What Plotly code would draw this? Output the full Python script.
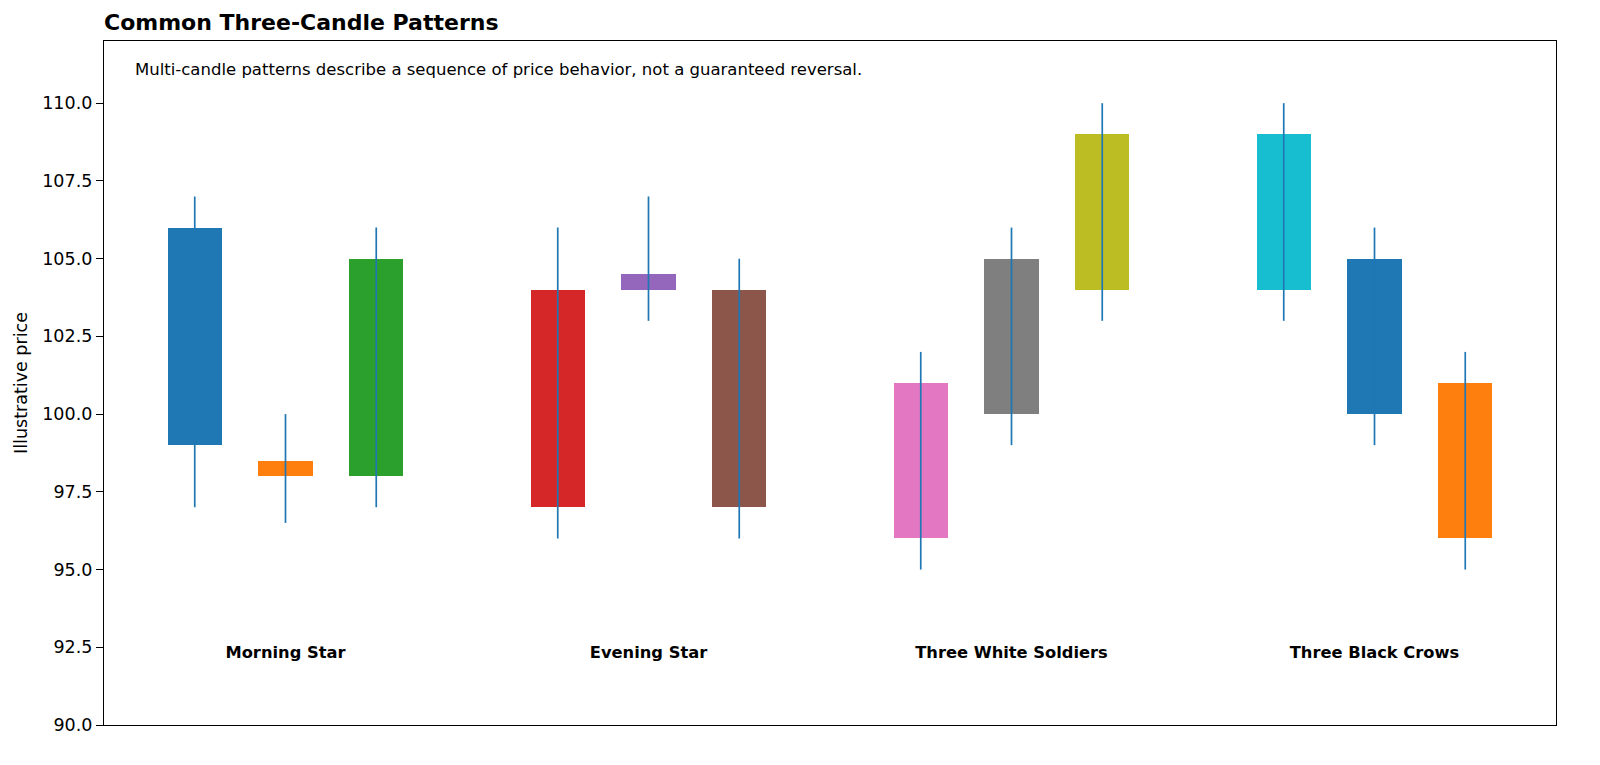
import plotly.graph_objects as go

# candle positions (gaps at 3, 7, 11 separate the patterns)
xPos = [0, 1, 2, 4, 5, 6, 8, 9, 10, 12, 13, 14]
opens = [106, 98.5, 98, 104, 104, 104, 96, 100, 104, 109, 105, 101]
closes = [99, 98, 105, 97, 104.5, 97, 101, 105, 109, 104, 100, 96]
highs = [107, 100, 106, 106, 107, 105, 102, 106, 110, 110, 106, 102]
lows = [97, 96.5, 97, 96, 103, 96, 95, 99, 103, 103, 99, 95]

patternNames = ["Morning Star", "Evening Star", "Three White Soldiers", "Three Black Crows"]
patternCenters = [1, 5, 9, 13]
labelY = 92.3

yTicks = [90, 92.5, 95, 97.5, 100, 102.5, 105, 107.5, 110]

# matplotlib tab10 cycle
tab10 = ["#1f77b4", "#ff7f0e", "#2ca02c", "#d62728", "#9467bd",
         "#8c564b", "#e377c2", "#7f7f7f", "#bcbd22", "#17becf"]
colors = [tab10[i % 10] for i in range(len(xPos))]

bodyBase = [min(o, c) for o, c in zip(opens, closes)]
bodyHeight = [abs(c - o) for o, c in zip(opens, closes)]

fig = go.Figure()

fig.add_trace(go.Bar(
    x=xPos,
    y=bodyHeight,
    base=bodyBase,
    width=0.6,
    marker=dict(color=colors, line=dict(width=0)),
    showlegend=False,
))

# wicks drawn over the bodies
wickX = []
wickY = []
for x, lo, hi in zip(xPos, lows, highs):
    wickX += [x, x, None]
    wickY += [lo, hi, None]

fig.add_trace(go.Scatter(
    x=wickX,
    y=wickY,
    mode="lines",
    line=dict(color="#1f77b4", width=1.7),
    showlegend=False,
))

fig.add_trace(go.Scatter(
    x=patternCenters,
    y=[labelY] * len(patternCenters),
    mode="text",
    text=["<b>" + n + "</b>" for n in patternNames],
    textfont=dict(size=16.3, color="black", family="DejaVu Sans"),
    showlegend=False,
))

fig.add_annotation(
    x=0.02, y=0.959, xref="paper", yref="paper",
    xanchor="left", yanchor="middle",
    text="Multi-candle patterns describe a sequence of price behavior, not a guaranteed reversal.",
    showarrow=False,
    font=dict(size=16.5, color="black", family="DejaVu Sans"),
)

fig.update_layout(
    width=1600, height=765,
    margin=dict(l=104, r=44, t=41, b=40),
    paper_bgcolor="white",
    plot_bgcolor="white",
    font=dict(family="DejaVu Sans", size=17.5, color="black"),
    title=dict(
        text="<b>Common Three-Candle Patterns</b>",
        x=104 / 1600, xanchor="left",
        y=1 - 22 / 765, yanchor="middle",
        font=dict(size=22, color="black"),
    ),
    bargap=0,
)

fig.update_xaxes(
    range=[-1, 15],
    showticklabels=False, ticks="",
    showgrid=False, zeroline=False,
    showline=True, linecolor="black", linewidth=1.3, mirror=True,
)
fig.update_yaxes(
    range=[90, 112],
    tickvals=yTicks,
    tickformat=".1f",
    ticks="outside", ticklen=7, tickwidth=1.2, tickcolor="black",
    showgrid=False, zeroline=False,
    showline=True, linecolor="black", linewidth=1.3, mirror=True,
    title=dict(text="Illustrative price", standoff=10, font=dict(size=17.5)),
)

fig.write_html("out.html", config={"displayModeBar": False},
               post_script="document.body.style.margin='0';")
